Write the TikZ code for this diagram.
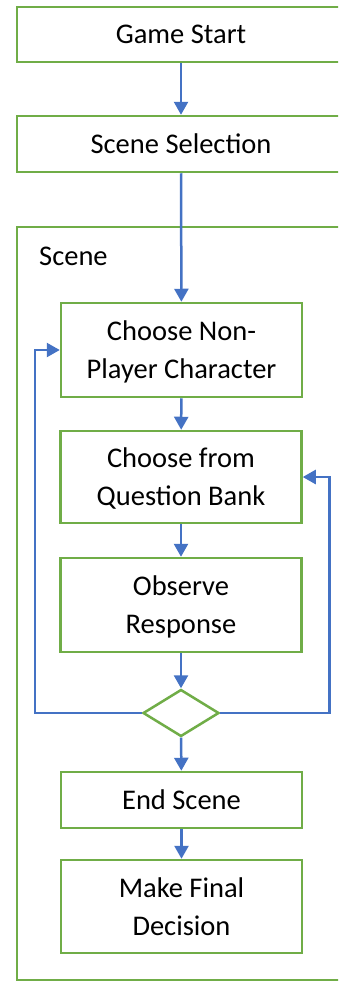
\documentclass[tikz,border=0pt]{standalone}
\usepackage{fontspec}
\setmainfont{Carlito}
\usetikzlibrary{arrows.meta,shapes.geometric}
\definecolor{boxgreen}{HTML}{70AD47}
\definecolor{flowblue}{HTML}{4472C4}

\begin{document}
\begin{tikzpicture}[x=1pt,y=-1pt,
    box/.style={shape=rectangle,draw=boxgreen,line width=2.5pt,align=center,inner sep=0pt,text depth=-4pt,font=\fontsize{28.5}{38}\selectfont},
    flow/.style={draw=flowblue,line width=2.5pt,-{Triangle[width=14pt,length=13pt]}}]
                    \useasboundingbox (0,0) rectangle (338,982);
                    \fill[white] (0,0) rectangle (338,982);
                    \clip (0,0) rectangle (338,982);

                    \node[box,minimum width=328pt,minimum height=55pt] (start) at (181,34.5) {Game Start};
                    \node[box,minimum width=328pt,minimum height=56pt] (select) at (181,144) {Scene Selection};
                    \node[box,minimum width=328pt,minimum height=753pt] (scene) at (181,603.5) {};
                    \node[font=\fontsize{28.5}{38}\selectfont,anchor=west,inner sep=3pt] (scenelabel) at (36,256) {Scene};

                    \node[box,minimum width=241pt,minimum height=94pt] (npc) at (181.5,350) {Choose Non-\\Player Character};
                    \node[box,minimum width=241pt,minimum height=92pt] (bank) at (181,477) {Choose from\\Question Bank};
                    \node[box,minimum width=241pt,minimum height=94pt] (observe) at (181,605) {Observe\\Response};
                    \node[shape=diamond,draw=boxgreen,line width=2.5pt,inner sep=0pt,aspect=1.6,minimum width=76pt,minimum height=47pt] (decide) at (181,713) {};
                    \node[box,minimum width=241pt,minimum height=56pt] (endscene) at (181.5,800) {End Scene};
                    \node[box,minimum width=241pt,minimum height=93pt] (final) at (181.5,906.5) {Make Final\\Decision};

                    \draw[flow] (start) -- (select);
                    \draw[flow] (select) -- (npc);
                    \draw[flow] (npc) -- (bank);
                    \draw[flow] (bank) -- (observe);
                    \draw[flow] (observe) -- (decide);
                    \draw[flow] (decide) -- (endscene);
                    \draw[flow] (endscene) -- (final);
                    \draw[flow] (decide.west) -- ++(-107,0) |- (npc.west);
                    \draw[flow] (decide.east) -- ++(109,0) |- (bank.east);
                \end{tikzpicture}
\end{document}
